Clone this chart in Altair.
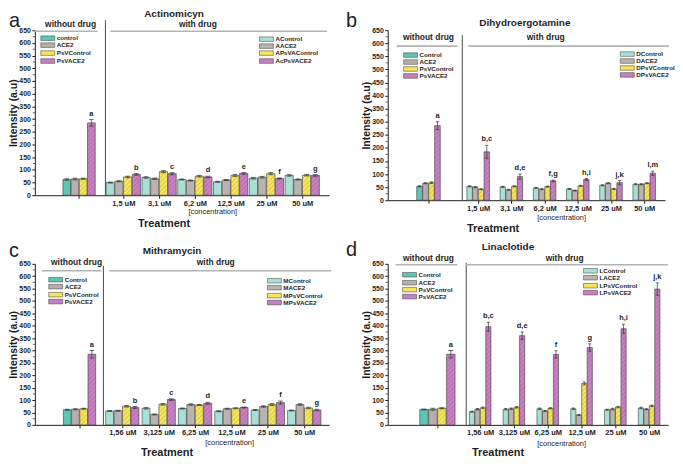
import json
import altair as alt
import pandas as pd

FONT = "Liberation Sans"
INK = "#1e1e1e"

COLOR_KEYS = ["w0", "w1", "w2", "w3", "d0", "d1", "d2", "d3"]
COLOR_VALUES = ["#5cc6b7", "#b8afac", "#f5e45c", "#c880c2",
                "#a8e0d8", "#bab3b0", "#f5e45c", "#c880c2"]
HATCH_COLORS = {2: "#9f9238", 3: "#8a4c8a"}
Y_TICKS = list(range(0, 651, 50))
Y_MINOR = list(range(25, 650, 50))

# ---------------- Panel a : Actinomicyn ----------------
A_TITLE = "Actinomicyn"
A_CONC = ["1,5 uM", "3,1 uM", "6,2 uM", "12,5 uM", "25 uM", "50 uM"]
A_WO = [62, 64, 65, 285]
A_WO_ERR = [3, 3, 2, 13]
A_CTRL = [50, 70, 62, 53, 67, 78]
A_ACE2 = [55, 65, 58, 60, 71, 62]
A_PSV = [72, 93, 75, 78, 85, 79]
A_PSVACE2 = [82, 85, 72, 86, 66, 78]
A_CTRL_ERR = [2, 3, 2, 2, 3, 3]
A_ACE2_ERR = [2, 3, 2, 2, 3, 2]
A_PSV_ERR = [3, 4, 3, 4, 4, 3]
A_PSVACE2_ERR = [3, 4, 3, 3, 2, 3]
A_LETTERS = ["a", "b", "c", "d", "e", "f", "g"]
A_LEG_L = ["control", "ACE2", "PsVControl", "PsVACE2"]
A_LEG_R = ["AControl", "AACE2", "APsVAControl", "AcPsVACE2"]

# ---------------- Panel b : Dihydroergotamine ----------------
B_TITLE = "Dihydroergotamine"
B_CONC = ["1,5 uM", "3,1 uM", "6,2 uM", "12,5 uM", "25 uM", "50 uM"]
B_WO = [53, 65, 67, 285]
B_WO_ERR = [2, 2, 3, 15]
B_CTRL = [53, 51, 47, 43, 57, 61]
B_ACE2 = [50, 40, 42, 37, 65, 61]
B_PSV = [42, 53, 52, 55, 43, 65]
B_PSVACE2 = [185, 90, 74, 79, 67, 103]
B_CTRL_ERR = [2, 2, 2, 2, 2, 2]
B_ACE2_ERR = [2, 2, 2, 2, 2, 2]
B_PSV_ERR = [2, 2, 2, 2, 2, 2]
B_PSVACE2_ERR = [25, 10, 3, 4, 8, 8]
B_LETTERS = ["a", "b,c", "d,e", "f,g", "h,i", "j,k", "l,m"]
B_LEG_L = ["Control", "ACE2", "PsVControl", "PsVACE2"]
B_LEG_R = ["DControl", "DACE2", "DPsVControl", "DPsVACE2"]

# ---------------- Panel c : Mithramycin ----------------
C_TITLE = "Mithramycin"
C_CONC = ["1,56 uM", "3,125 uM", "6,25 uM", "12,5 uM", "25 uM", "50 uM"]
C_WO = [61, 63, 65, 285]
C_WO_ERR = [2, 2, 2, 15]
C_CTRL = [56, 67, 66, 55, 60, 58]
C_ACE2 = [57, 42, 82, 65, 74, 82]
C_PSV = [75, 83, 80, 67, 82, 68]
C_PSVACE2 = [70, 102, 87, 70, 90, 60]
C_CTRL_ERR = [2, 3, 2, 2, 2, 2]
C_ACE2_ERR = [2, 2, 3, 2, 3, 3]
C_PSV_ERR = [3, 3, 2, 2, 4, 3]
C_PSVACE2_ERR = [4, 3, 4, 2, 6, 3]
C_LETTERS = ["a", "b", "c", "d", "e", "f", "g"]
C_LEG_L = ["Control", "ACE2", "PsVControl", "PsVACE2"]
C_LEG_R = ["MControl", "MACE2", "MPsVControl", "MPsVACE2"]

# ---------------- Panel d : Linaclotide ----------------
D_TITLE = "Linaclotide"
D_CONC = ["1,56 uM", "3,125 uM", "6,25 uM", "12,5 uM", "25 uM", "50 uM"]
D_WO = [62, 63, 67, 285]
D_WO_ERR = [2, 4, 2, 15]
D_CTRL = [53, 63, 65, 65, 61, 68]
D_ACE2 = [63, 65, 56, 40, 64, 63]
D_PSV = [69, 71, 67, 167, 72, 77]
D_PSVACE2 = [396, 360, 284, 312, 388, 548]
D_CTRL_ERR = [2, 3, 3, 3, 2, 3]
D_ACE2_ERR = [3, 3, 2, 2, 3, 2]
D_PSV_ERR = [3, 3, 2, 6, 3, 3]
D_PSVACE2_ERR = [18, 15, 15, 15, 18, 25]
D_LETTERS = ["a", "b,c", "d,e", "f", "g", "h,i", "j,k"]
D_LEG_L = ["Control", "ACE2", "PsVControl", "PsVACE2"]
D_LEG_R = ["LControl", "LACE2", "LPsVControl", "LPsVACE2"]

# ---------------- layout (pixels relative to each plot area) ----------------
LA = dict(W=296, H=166, s=36.0, d0=-1.472, wpos=-0.236, sep=0.5, gw=35, gw0=33,
          wo_txt=(36, -6), wo_line=(-1, 63, 1), w_txt=(164, -6), w_line=(76, 294, 1),
          sep_top=-10, legL=(6, [8, 15, 23, 31]), legR=(226, [9, 16, 23, 31]),
          title=(140, -16), letter=(-26, -3), conc=(179, 17), treat=(130, 29))
LB = dict(W=279, H=171, s=33.4, d0=-1.725, wpos=-0.497, sep=0.521, gw=23, gw0=24,
          wo_txt=(41, 7), wo_line=(9, 70, 16), w_txt=(159, 7), w_line=(81, 283, 16),
          sep_top=5, legL=(16, [25, 32, 39, 46]), legR=(234, [24, 31, 38, 45]),
          title=(138, -7), letter=(-42, -3), conc=(175, 18), treat=(106, 29))
LC = dict(W=296, H=162, s=36.6, d0=-1.404, wpos=-0.175, sep=0.481, gw=34, gw0=33,
          wo_txt=(42, -2), wo_line=(7, 67, 7), w_txt=(182, -2), w_line=(75, 298, 7),
          sep_top=2, legL=(14, [16, 23, 31, 38]), legR=(234, [17, 24, 32, 39]),
          title=(138, -13), letter=(-26, -7), conc=(196, 18), treat=(133, 28))
LD = dict(W=282, H=162, s=34.0, d0=-1.735, wpos=-0.265, sep=0.588, gw=22, gw0=36,
          wo_txt=(41, -6), wo_line=(8, 70, 1), w_txt=(178, -6), w_line=(79, 282, 1),
          sep_top=-1, legL=(15, [11, 19, 26, 33]), legR=(197, [7, 14, 22, 29]),
          title=(121, -17), letter=(-42, -8), conc=(175, 19), treat=(111, 28))

ONE = pd.DataFrame({"o": [0]})


def text_layer(text, px, py, size, weight="bold", align="center", baseline="middle"):
    return alt.Chart(ONE).mark_text(
        text=text, fontSize=size, fontWeight=weight, align=align,
        baseline=baseline, font=FONT, color=INK
    ).encode(x=alt.value(px), y=alt.value(py))


def hline(px1, px2, py, color="#b4b4b4", width=1.6):
    return alt.Chart(ONE).mark_rule(color=color, strokeWidth=width).encode(
        x=alt.value(px1), x2=alt.value(px2), y=alt.value(py))


def hatch(x1, x2, yb, yt, sx, sy, pitch=4.6):
    """diagonal '/' hatch segments inside a rectangle given in data units"""
    out = []
    if yt <= yb:
        return out
    rise = (x2 - x1) * sx / sy
    step = pitch / sy
    y0 = yb - rise + step * 0.4
    while y0 < yt:
        t0 = max(0.0, (yb - y0) / rise)
        t1 = min(1.0, (yt - y0) / rise)
        if t1 > t0:
            out.append((x1 + t0 * (x2 - x1), y0 + t0 * rise,
                        x1 + t1 * (x2 - x1), y0 + t1 * rise))
        y0 += step
    return out


def panel(letter, title, conc, wo, wo_err, ser, ser_err, lets, legl, legr, L):
    W, H, s, d0 = L["W"], L["H"], L["s"], L["d0"]
    d1 = d0 + W / s
    sy = H / 650.0
    xs = alt.Scale(domain=[d0, d1], nice=False, zero=False)
    ys = alt.Scale(domain=[0, 650], nice=False)
    label_expr = "datum.value < 0.9 ? '' : " + json.dumps(conc) + "[round(datum.value) - 1]"
    xaxis = alt.Axis(values=[L["wpos"]] + [1, 2, 3, 4, 5, 6], labelExpr=label_expr,
                     title=None, grid=False, tickSize=3, labelFontSize=7.5,
                     labelFontWeight="bold", labelPadding=1, labelFlush=False,
                     labelOverlap=False, domainColor=INK, tickColor=INK,
                     labelColor=INK, labelFont=FONT)
    yaxis = alt.Axis(values=Y_TICKS, title="Intensity (a.u)", grid=False, tickSize=3,
                     labelFontSize=7, labelFontWeight="bold", titleFontSize=10.5,
                     titleFontWeight="bold", titlePadding=0.5, labelPadding=1.5,
                     domainColor=INK, tickColor=INK, labelColor=INK, titleColor=INK,
                     labelFont=FONT, titleFont=FONT)

    def X(f):
        return alt.X(f, type="quantitative", scale=xs, axis=xaxis)

    def Y(f):
        return alt.Y(f, type="quantitative", scale=ys, axis=yaxis)

    cs = alt.Scale(domain=COLOR_KEYS, range=COLOR_VALUES)

    rows, hrows = [], []
    for g in range(7):
        for k in range(4):
            if g == 0:
                v, e, c0, bw, ck = wo[k], wo_err[k], L["wpos"], L["gw0"] / s / 4, "w%d" % k
            else:
                v, e, c0, bw, ck = ser[k][g - 1], ser_err[k][g - 1], g, L["gw"] / s / 4, "d%d" % k
            cx = c0 + (k - 1.5) * bw
            r = dict(g=g, k=k, v=v, ck=ck, cx=cx, x1=cx - bw * 0.47, x2=cx + bw * 0.47,
                     c1=cx - bw * 0.28, c2=cx + bw * 0.28, lo=v - e, hi=v + e, z=0,
                     lab=lets[g])
            rows.append(r)
            if k >= 2:
                for seg in hatch(r["x1"], r["x2"], 0, v, s, sy):
                    hrows.append(dict(k=k, hx1=seg[0], hy1=seg[1], hx2=seg[2], hy2=seg[3]))
    df = pd.DataFrame(rows)

    xu = lambda px: d0 + px / s
    yu = lambda py: 650.0 * (1 - py / H)
    lrows = []
    for (rx, rys), labs, pre in ((L["legL"], legl, "w"), (L["legR"], legr, "d")):
        for k in range(4):
            ry = rys[k]
            lr = dict(lx1=xu(rx), lx2=xu(rx + 14), ly1=yu(ry + 2.3), ly2=yu(ry - 2.3),
                      ly=yu(ry), tx=xu(rx + 16), lab=labs[k], ck=pre + str(k))
            lrows.append(lr)
            if k >= 2:
                for seg in hatch(lr["lx1"], lr["lx2"], lr["ly1"], lr["ly2"], s, sy, 4.0):
                    hrows.append(dict(k=k, hx1=seg[0], hy1=seg[1], hx2=seg[2], hy2=seg[3]))
    ldf = pd.DataFrame(lrows)
    hdf = pd.DataFrame(hrows)

    layers = []
    layers.append(alt.Chart(df).mark_rect(stroke="#3a3a3a", strokeWidth=0.6).encode(
        x=X("x1"), x2="x2", y=Y("v"), y2="z",
        color=alt.Color("ck:N", scale=cs, legend=None)))
    for k in (2, 3):
        layers.append(alt.Chart(hdf[hdf.k == k]).mark_rule(
            color=HATCH_COLORS[k], strokeWidth=0.55, opacity=0.75).encode(
            x=X("hx1"), y=Y("hy1"), x2="hx2", y2="hy2"))
    layers.append(alt.Chart(df).mark_rule(color="#333", strokeWidth=0.7).encode(
        x=X("cx"), y=Y("lo"), y2="hi"))
    layers.append(alt.Chart(df).mark_rule(color="#333", strokeWidth=0.7).encode(
        x=X("c1"), x2="c2", y=Y("hi")))
    layers.append(alt.Chart(df).mark_rule(color="#333", strokeWidth=0.7).encode(
        x=X("c1"), x2="c2", y=Y("lo")))
    layers.append(alt.Chart(df[df.k == 3]).mark_text(
        fontSize=7.5, fontWeight="bold", baseline="bottom", dy=-2, font=FONT, color=INK
    ).encode(x=X("cx"), y=Y("hi"), text="lab:N"))
    layers.append(alt.Chart(pd.DataFrame({"m": Y_MINOR})).mark_rule(
        color=INK, strokeWidth=0.7).encode(x=alt.value(-2), x2=alt.value(0), y=Y("m")))
    layers.append(alt.Chart(ONE).mark_rule(color="#4a4a4a", strokeWidth=1).encode(
        x=alt.X(datum=L["sep"], type="quantitative", scale=xs, axis=xaxis),
        y=alt.value(L["sep_top"]), y2=alt.value(H)))
    # headers
    layers.append(hline(L["wo_line"][0], L["wo_line"][1], L["wo_line"][2]))
    layers.append(hline(L["w_line"][0], L["w_line"][1], L["w_line"][2]))
    layers.append(text_layer("without drug", L["wo_txt"][0], L["wo_txt"][1], 8.5))
    layers.append(text_layer("with drug", L["w_txt"][0], L["w_txt"][1], 8.5))
    # legends
    layers.append(alt.Chart(ldf).mark_rect(stroke="#3a3a3a", strokeWidth=0.5).encode(
        x=X("lx1"), x2="lx2", y=Y("ly1"), y2="ly2",
        color=alt.Color("ck:N", scale=cs, legend=None)))
    layers.append(alt.Chart(ldf).mark_text(
        fontSize=6.3, fontWeight="bold", align="left", baseline="middle", font=FONT, color=INK
    ).encode(x=X("tx"), y=Y("ly"), text="lab:N"))
    # texts
    layers.append(text_layer(title, L["title"][0], L["title"][1], 10))
    layers.append(text_layer(letter, L["letter"][0], L["letter"][1], 20, weight="normal",
                             align="left", baseline="alphabetic"))
    layers.append(text_layer("[concentration]", L["conc"][0], H + L["conc"][1], 7.5, weight="normal"))
    layers.append(text_layer("Treatment", L["treat"][0], H + L["treat"][1], 11))
    return alt.layer(*layers).properties(width=W, height=H)


pa = panel("a", A_TITLE, A_CONC, A_WO, A_WO_ERR, [A_CTRL, A_ACE2, A_PSV, A_PSVACE2],
           [A_CTRL_ERR, A_ACE2_ERR, A_PSV_ERR, A_PSVACE2_ERR], A_LETTERS, A_LEG_L, A_LEG_R, LA)
pb = panel("b", B_TITLE, B_CONC, B_WO, B_WO_ERR, [B_CTRL, B_ACE2, B_PSV, B_PSVACE2],
           [B_CTRL_ERR, B_ACE2_ERR, B_PSV_ERR, B_PSVACE2_ERR], B_LETTERS, B_LEG_L, B_LEG_R, LB)
pc = panel("c", C_TITLE, C_CONC, C_WO, C_WO_ERR, [C_CTRL, C_ACE2, C_PSV, C_PSVACE2],
           [C_CTRL_ERR, C_ACE2_ERR, C_PSV_ERR, C_PSVACE2_ERR], C_LETTERS, C_LEG_L, C_LEG_R, LC)
pd_ = panel("d", D_TITLE, D_CONC, D_WO, D_WO_ERR, [D_CTRL, D_ACE2, D_PSV, D_PSVACE2],
            [D_CTRL_ERR, D_ACE2_ERR, D_PSV_ERR, D_PSVACE2_ERR], D_LETTERS, D_LEG_L, D_LEG_R, LD)

chart = alt.concat(
    pa, pb, pc, pd_, columns=2,
    spacing={"row": 64, "column": 59}, bounds="flush", align="each"
).properties(
    padding={"left": 0, "top": 0, "right": 0, "bottom": 0}
).configure_view(stroke=None)

chart.save("out.html", embed_options={"renderer": "svg", "actions": False})
